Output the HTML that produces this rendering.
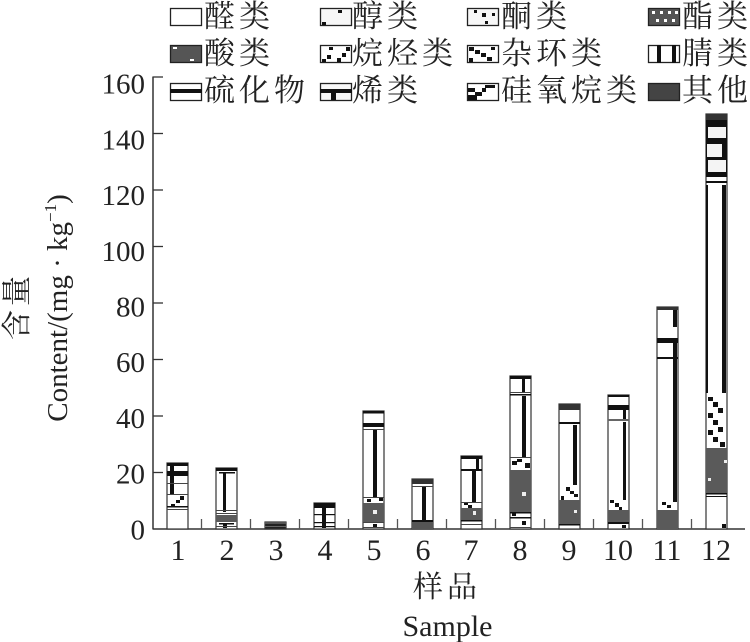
<!DOCTYPE html>
<html><head><meta charset="utf-8">
<style>
html,body{margin:0;padding:0;background:#fff;}
svg{display:block;}
.cj{font-family:"Liberation Serif","Noto Serif CJK SC",serif;fill:#222;}
.ser{font-family:"Liberation Serif",serif;fill:#222;}
</style></head><body>
<svg width="750" height="642" viewBox="0 0 750 642" xmlns="http://www.w3.org/2000/svg">
<rect width="750" height="642" fill="#fff"/>

<!-- Legend swatches -->
<g stroke="#222" stroke-width="1.3">
  <rect x="170.5" y="8.5" width="31" height="17" fill="#fff"/>
  <rect x="320.5" y="8.5" width="31" height="17" fill="#f7f7f7"/>
  <rect x="467.5" y="8.5" width="31" height="17" fill="#f7f7f7"/>
  <rect x="648.5" y="8.5" width="31" height="17" fill="#555"/>
  <rect x="170.5" y="45.5" width="31" height="17" fill="#555"/>
  <rect x="320.5" y="45.5" width="31" height="17" fill="#fff"/>
  <rect x="467.5" y="45.5" width="31" height="17" fill="#fff"/>
  <rect x="648.5" y="45.5" width="31" height="17" fill="#fff"/>
  <rect x="170.5" y="83.5" width="31" height="17" fill="#fff"/>
  <rect x="320.5" y="83.5" width="31" height="17" fill="#f7f7f7"/>
  <rect x="467.5" y="83.5" width="31" height="17" fill="#fff"/>
  <rect x="648.5" y="83.5" width="31" height="17" fill="#444"/>
</g>
<g fill="#111">
  <rect x="338" y="10" width="4" height="3"/><rect x="322" y="22" width="4" height="3"/>
  <rect x="474" y="10" width="3" height="3"/><rect x="482" y="13" width="4" height="4"/><rect x="492" y="13" width="3" height="3"/><rect x="485" y="21" width="3" height="3"/>
  <rect x="322" y="59" width="4" height="3"/><rect x="327" y="55" width="4" height="4"/><rect x="329" y="47" width="4" height="3"/>
  <rect x="337" y="58" width="4" height="4"/><rect x="342" y="53" width="4" height="4"/><rect x="346" y="47" width="4" height="4"/>
  <rect x="469" y="47" width="5" height="4"/><rect x="475" y="50" width="5" height="4"/><rect x="481" y="53" width="5" height="4"/><rect x="487" y="57" width="5" height="4"/><rect x="469" y="58" width="4" height="4"/><rect x="491" y="47" width="4" height="3"/>
  <rect x="657" y="45" width="4" height="18"/><rect x="672" y="45" width="4" height="18"/>
  <rect x="170" y="89" width="32" height="4"/>
  <rect x="320" y="89" width="32" height="4"/><rect x="331" y="89" width="5" height="11"/>
  <rect x="468" y="88" width="7" height="4"/><rect x="475" y="92" width="7" height="4"/><rect x="485" y="85" width="10" height="3"/><rect x="468" y="95" width="9" height="5"/><rect x="482" y="88" width="4" height="4"/>
</g>
<g fill="#fff">
  <rect x="652" y="11" width="3" height="3"/><rect x="660" y="11" width="3" height="3"/><rect x="668" y="11" width="3" height="3"/><rect x="675" y="11" width="3" height="3"/>
  <rect x="656" y="19" width="3" height="3"/><rect x="664" y="19" width="3" height="3"/><rect x="672" y="19" width="3" height="3"/>
  <rect x="173" y="47" width="4" height="2"/><rect x="190" y="59" width="4" height="2"/>
</g>

<!-- Legend text -->
<g class="cj" font-size="31" letter-spacing="4">
  <text x="204" y="27">醛类</text>
  <text x="352" y="27">醇类</text>
  <text x="501" y="27">酮类</text>
  <text x="682" y="27">酯类</text>
  <text x="204" y="64">酸类</text>
  <text x="352" y="64">烷烃类</text>
  <text x="501" y="64">杂环类</text>
  <text x="682" y="64">腈类</text>
  <text x="204" y="101">硫化物</text>
  <text x="352" y="101">烯类</text>
  <text x="501" y="101">硅氧烷类</text>
  <text x="682" y="101">其他</text>
</g>

<!-- Axes -->
<g stroke="#333" stroke-width="1.5">
  <line x1="153" y1="76.5" x2="153" y2="529"/>
  <line x1="152.5" y1="529" x2="745" y2="529"/>
</g>
<g stroke="#333" stroke-width="1.3">
  <line x1="153" y1="472.5" x2="163" y2="472.5"/>
  <line x1="153" y1="416" x2="163" y2="416"/>
  <line x1="153" y1="359.5" x2="163" y2="359.5"/>
  <line x1="153" y1="303" x2="163" y2="303"/>
  <line x1="153" y1="246.5" x2="163" y2="246.5"/>
  <line x1="153" y1="190" x2="163" y2="190"/>
  <line x1="153" y1="133.5" x2="163" y2="133.5"/>
  <line x1="153" y1="77" x2="163" y2="77"/>
</g>
<g stroke="#555" stroke-width="1.3">
  <line x1="201.5" y1="519" x2="201.5" y2="529"/>
  <line x1="250.5" y1="519" x2="250.5" y2="529"/>
  <line x1="299.5" y1="519" x2="299.5" y2="529"/>
  <line x1="348.5" y1="519" x2="348.5" y2="529"/>
  <line x1="397.5" y1="519" x2="397.5" y2="529"/>
  <line x1="446.5" y1="519" x2="446.5" y2="529"/>
  <line x1="495.5" y1="519" x2="495.5" y2="529"/>
  <line x1="544.5" y1="519" x2="544.5" y2="529"/>
  <line x1="593.5" y1="519" x2="593.5" y2="529"/>
  <line x1="642.5" y1="519" x2="642.5" y2="529"/>
  <line x1="691.5" y1="519" x2="691.5" y2="529"/>
</g>

<!-- Y labels -->
<g class="ser" font-size="29" text-anchor="end">
  <text x="145" y="539.3">0</text>
  <text x="145" y="483.6">20</text>
  <text x="145" y="427.9">40</text>
  <text x="145" y="372.2">60</text>
  <text x="145" y="316.5">80</text>
  <text x="145" y="260.8">100</text>
  <text x="145" y="205.1">120</text>
  <text x="145" y="149.4">140</text>
  <text x="145" y="93.7">160</text>
</g>

<!-- X labels -->
<g class="ser" font-size="30" text-anchor="middle">
  <text x="178" y="560">1</text>
  <text x="227" y="560">2</text>
  <text x="276" y="560">3</text>
  <text x="325" y="560">4</text>
  <text x="374" y="560">5</text>
  <text x="423" y="560">6</text>
  <text x="471" y="560">7</text>
  <text x="520" y="560">8</text>
  <text x="569" y="560">9</text>
  <text x="618" y="560">10</text>
  <text x="667" y="560">11</text>
  <text x="716" y="560">12</text>
</g>

<!-- Axis titles -->
<text class="cj" font-size="30" letter-spacing="4" text-anchor="middle" x="447" y="597">样品</text>
<text class="ser" font-size="30" text-anchor="middle" x="447.5" y="636">Sample</text>
<text class="cj" font-size="30" letter-spacing="4" text-anchor="middle" transform="translate(27,306) rotate(-90)">含量</text>
<text class="ser" font-size="29" text-anchor="middle" transform="translate(67,308) rotate(-90)">Content/(mg · kg<tspan font-size="17" dy="-11">−1</tspan><tspan dy="11">)</tspan></text>

<!-- Bars -->
<g transform="translate(167,0)">
  <rect x="0" y="463" width="21" height="66" fill="#fff" stroke="#333" stroke-width="1.2"/>
  <g fill="#111">
    <rect x="0" y="463" width="21" height="3"/>
    <rect x="0" y="471" width="21" height="5"/>
    <rect x="3" y="466" width="4" height="28"/>
    <rect x="13" y="496" width="4" height="4"/>
    <rect x="9" y="500" width="4" height="3"/>
    <rect x="4" y="504" width="4" height="3"/>
    <rect x="0" y="506" width="21" height="1.5"/>
  </g>
  <rect x="0" y="483" width="21" height="1" fill="#444"/>
  <rect x="0" y="494" width="21" height="1" fill="#444"/>
  <rect x="0" y="509" width="21" height="1" fill="#444"/>
</g>
<g transform="translate(216,0)">
  <rect x="0" y="468" width="21" height="61" fill="#fff" stroke="#333" stroke-width="1.2"/>
  <rect x="0" y="515" width="21" height="7" fill="#5a5a5a"/>
  <g fill="#111">
    <rect x="0" y="468" width="21" height="3"/>
    <rect x="3" y="472" width="16" height="1.5"/>
    <rect x="7" y="473" width="3" height="39"/>
    <rect x="3" y="523" width="15" height="1.5"/>
    <rect x="7" y="524" width="4" height="4"/>
  </g>
  <rect x="0" y="510" width="21" height="1" fill="#444"/>
  <rect x="0" y="513" width="21" height="1" fill="#444"/>
  <rect x="0" y="526" width="21" height="1" fill="#444"/>
</g>
<g transform="translate(265,0)">
  <rect x="0" y="522" width="21" height="7" fill="#222" stroke="#333" stroke-width="1.2"/>
  <rect x="0" y="522" width="21" height="2" fill="#555"/>
  <rect x="0" y="526" width="21" height="1" fill="#666"/>
</g>
<g transform="translate(314,0)">
  <rect x="0" y="503" width="21" height="26" fill="#fff" stroke="#333" stroke-width="1.2"/>
  <g fill="#111">
    <rect x="0" y="503" width="21" height="5"/>
    <rect x="8" y="506" width="4" height="22"/>
    <rect x="0" y="514" width="21" height="1.2"/>
    <rect x="0" y="522" width="21" height="1.2"/>
    <rect x="0" y="526" width="21" height="1.2"/>
  </g>
</g>
<g transform="translate(363,0)">
  <rect x="0" y="411" width="21" height="118" fill="#fff" stroke="#333" stroke-width="1.2"/>
  <rect x="0" y="503" width="21" height="19" fill="#5a5a5a"/>
  <rect x="10" y="510" width="4" height="4" fill="#eee"/>
  <g fill="#111">
    <rect x="0" y="411" width="21" height="2.5"/>
    <rect x="0" y="423" width="21" height="4"/>
    <rect x="10" y="430" width="4" height="68"/>
    <rect x="16" y="497" width="4" height="4"/>
    <rect x="4" y="499" width="4" height="3"/>
    <rect x="10" y="524" width="4" height="3"/>
  </g>
  <rect x="0" y="429" width="21" height="1" fill="#444"/>
  <rect x="0" y="497" width="21" height="1" fill="#444"/>
  <rect x="0" y="522" width="21" height="1" fill="#444"/>
  <rect x="0" y="527" width="21" height="1" fill="#444"/>
</g>
<g transform="translate(412,0)">
  <rect x="0" y="479" width="21" height="50" fill="#fff" stroke="#333" stroke-width="1.2"/>
  <rect x="0" y="479" width="21" height="5" fill="#333"/>
  <rect x="0" y="486" width="21" height="1" fill="#444"/>
  <rect x="10" y="487" width="4" height="33" fill="#111"/>
  <rect x="0" y="520" width="21" height="2" fill="#111"/>
  <rect x="0" y="522" width="21" height="7" fill="#555"/>
</g>
<g transform="translate(461,0)">
  <rect x="0" y="456" width="21" height="73" fill="#fff" stroke="#333" stroke-width="1.2"/>
  <rect x="0" y="508" width="21" height="12" fill="#5a5a5a"/>
  <rect x="12" y="511" width="3" height="4" fill="#eee"/>
  <g fill="#111">
    <rect x="0" y="456" width="21" height="3"/>
    <rect x="15" y="459" width="3" height="11"/>
    <rect x="0" y="469" width="21" height="2"/>
    <rect x="11" y="471" width="4" height="31"/>
    <rect x="3" y="502" width="4" height="3"/>
    <rect x="7" y="505" width="4" height="3"/>
    <rect x="0" y="520" width="21" height="1.5"/>
  </g>
  <rect x="0" y="502" width="21" height="1" fill="#444"/>
  <rect x="0" y="524" width="21" height="1" fill="#444"/>
</g>
<g transform="translate(510,0)">
  <rect x="0" y="376" width="21" height="153" fill="#fff" stroke="#333" stroke-width="1.2"/>
  <rect x="0" y="470" width="21" height="42" fill="#5a5a5a"/>
  <rect x="12" y="492" width="4" height="4" fill="#eee"/>
  <g fill="#111">
    <rect x="0" y="376" width="21" height="3"/>
    <rect x="12" y="379" width="3" height="13"/>
    <rect x="0" y="394" width="21" height="1.5"/>
    <rect x="12" y="396" width="4" height="61"/>
    <rect x="2" y="461" width="5" height="4"/>
    <rect x="7" y="459" width="5" height="3"/>
    <rect x="15" y="463" width="5" height="5"/>
    <rect x="0" y="512" width="21" height="1.5"/>
    <rect x="2" y="513" width="4" height="3"/>
    <rect x="0" y="517" width="21" height="1.5"/>
    <rect x="12" y="521" width="4" height="4"/>
  </g>
  <rect x="0" y="392" width="21" height="1" fill="#444"/>
  <rect x="0" y="457" width="21" height="1" fill="#444"/>
  <rect x="0" y="527" width="21" height="1" fill="#444"/>
</g>
<g transform="translate(559,0)">
  <rect x="0" y="404" width="21" height="125" fill="#fff" stroke="#333" stroke-width="1.2"/>
  <rect x="0" y="404" width="21" height="6" fill="#333"/>
  <rect x="0" y="500" width="21" height="24" fill="#5a5a5a"/>
  <rect x="15" y="510" width="3" height="3" fill="#eee"/>
  <g fill="#111">
    <rect x="0" y="422" width="21" height="2"/>
    <rect x="14" y="425" width="4" height="60"/>
    <rect x="7" y="487" width="4" height="4"/>
    <rect x="11" y="491" width="4" height="3"/>
    <rect x="15" y="494" width="4" height="3"/>
    <rect x="2" y="496" width="3" height="4"/>
    <rect x="0" y="524" width="21" height="1.5"/>
  </g>
</g>
<g transform="translate(608,0)">
  <rect x="0" y="395" width="21" height="134" fill="#fff" stroke="#333" stroke-width="1.2"/>
  <rect x="0" y="510" width="21" height="12" fill="#5a5a5a"/>
  <rect x="0" y="419" width="21" height="2" fill="#666"/>
  <g fill="#111">
    <rect x="0" y="395" width="21" height="2"/>
    <rect x="0" y="405" width="21" height="5"/>
    <rect x="15" y="410" width="3" height="9"/>
    <rect x="15" y="422" width="3" height="78"/>
    <rect x="2" y="500" width="4" height="3"/>
    <rect x="7" y="503" width="4" height="4"/>
    <rect x="11" y="507" width="3" height="3"/>
    <rect x="0" y="522" width="21" height="2"/>
    <rect x="14" y="525" width="4" height="3"/>
  </g>
</g>
<g transform="translate(657,0)">
  <rect x="0" y="307" width="21" height="222" fill="#fff" stroke="#333" stroke-width="1.2"/>
  <rect x="0" y="307" width="21" height="3" fill="#333"/>
  <rect x="0" y="510" width="21" height="19" fill="#5a5a5a"/>
  <g fill="#111">
    <rect x="16" y="310" width="4" height="17"/>
    <rect x="0" y="338" width="21" height="5"/>
    <rect x="16" y="343" width="4" height="14"/>
    <rect x="0" y="357" width="21" height="2"/>
    <rect x="16" y="359" width="4" height="143"/>
    <rect x="5" y="502" width="4" height="3"/>
    <rect x="10" y="505" width="4" height="3"/>
  </g>
</g>
<g transform="translate(706,0)">
  <rect x="0" y="114" width="21" height="415" fill="#fff" stroke="#333" stroke-width="1.2"/>
  <rect x="0" y="114" width="21" height="6" fill="#333"/>
  <rect x="0" y="120" width="21" height="57" fill="#111"/>
  <g fill="#f4f4f4">
    <rect x="2" y="127" width="18" height="11"/>
    <rect x="1" y="144" width="15" height="13"/>
    <rect x="2" y="160" width="18" height="12"/>
  </g>
  <rect x="0" y="448" width="21" height="45" fill="#5a5a5a"/>
  <rect x="18" y="460" width="3" height="3" fill="#eee"/>
  <rect x="2" y="478" width="3" height="3" fill="#eee"/>
  <g fill="#111">
    <rect x="0" y="181" width="21" height="2"/>
    <rect x="0" y="185" width="2" height="208"/>
    <rect x="16" y="185" width="4" height="208"/>
    <rect x="2" y="397" width="5" height="4"/>
    <rect x="7" y="402" width="5" height="5"/>
    <rect x="12" y="408" width="5" height="5"/>
    <rect x="2" y="413" width="5" height="5"/>
    <rect x="7" y="420" width="5" height="5"/>
    <rect x="12" y="427" width="5" height="5"/>
    <rect x="2" y="430" width="5" height="5"/>
    <rect x="7" y="437" width="5" height="5"/>
    <rect x="14" y="442" width="5" height="5"/>
    <rect x="0" y="493" width="21" height="1.5"/>
    <rect x="0" y="496" width="21" height="1"/>
    <rect x="16" y="524" width="4" height="4"/>
  </g>
</g>
</svg>
</body></html>
